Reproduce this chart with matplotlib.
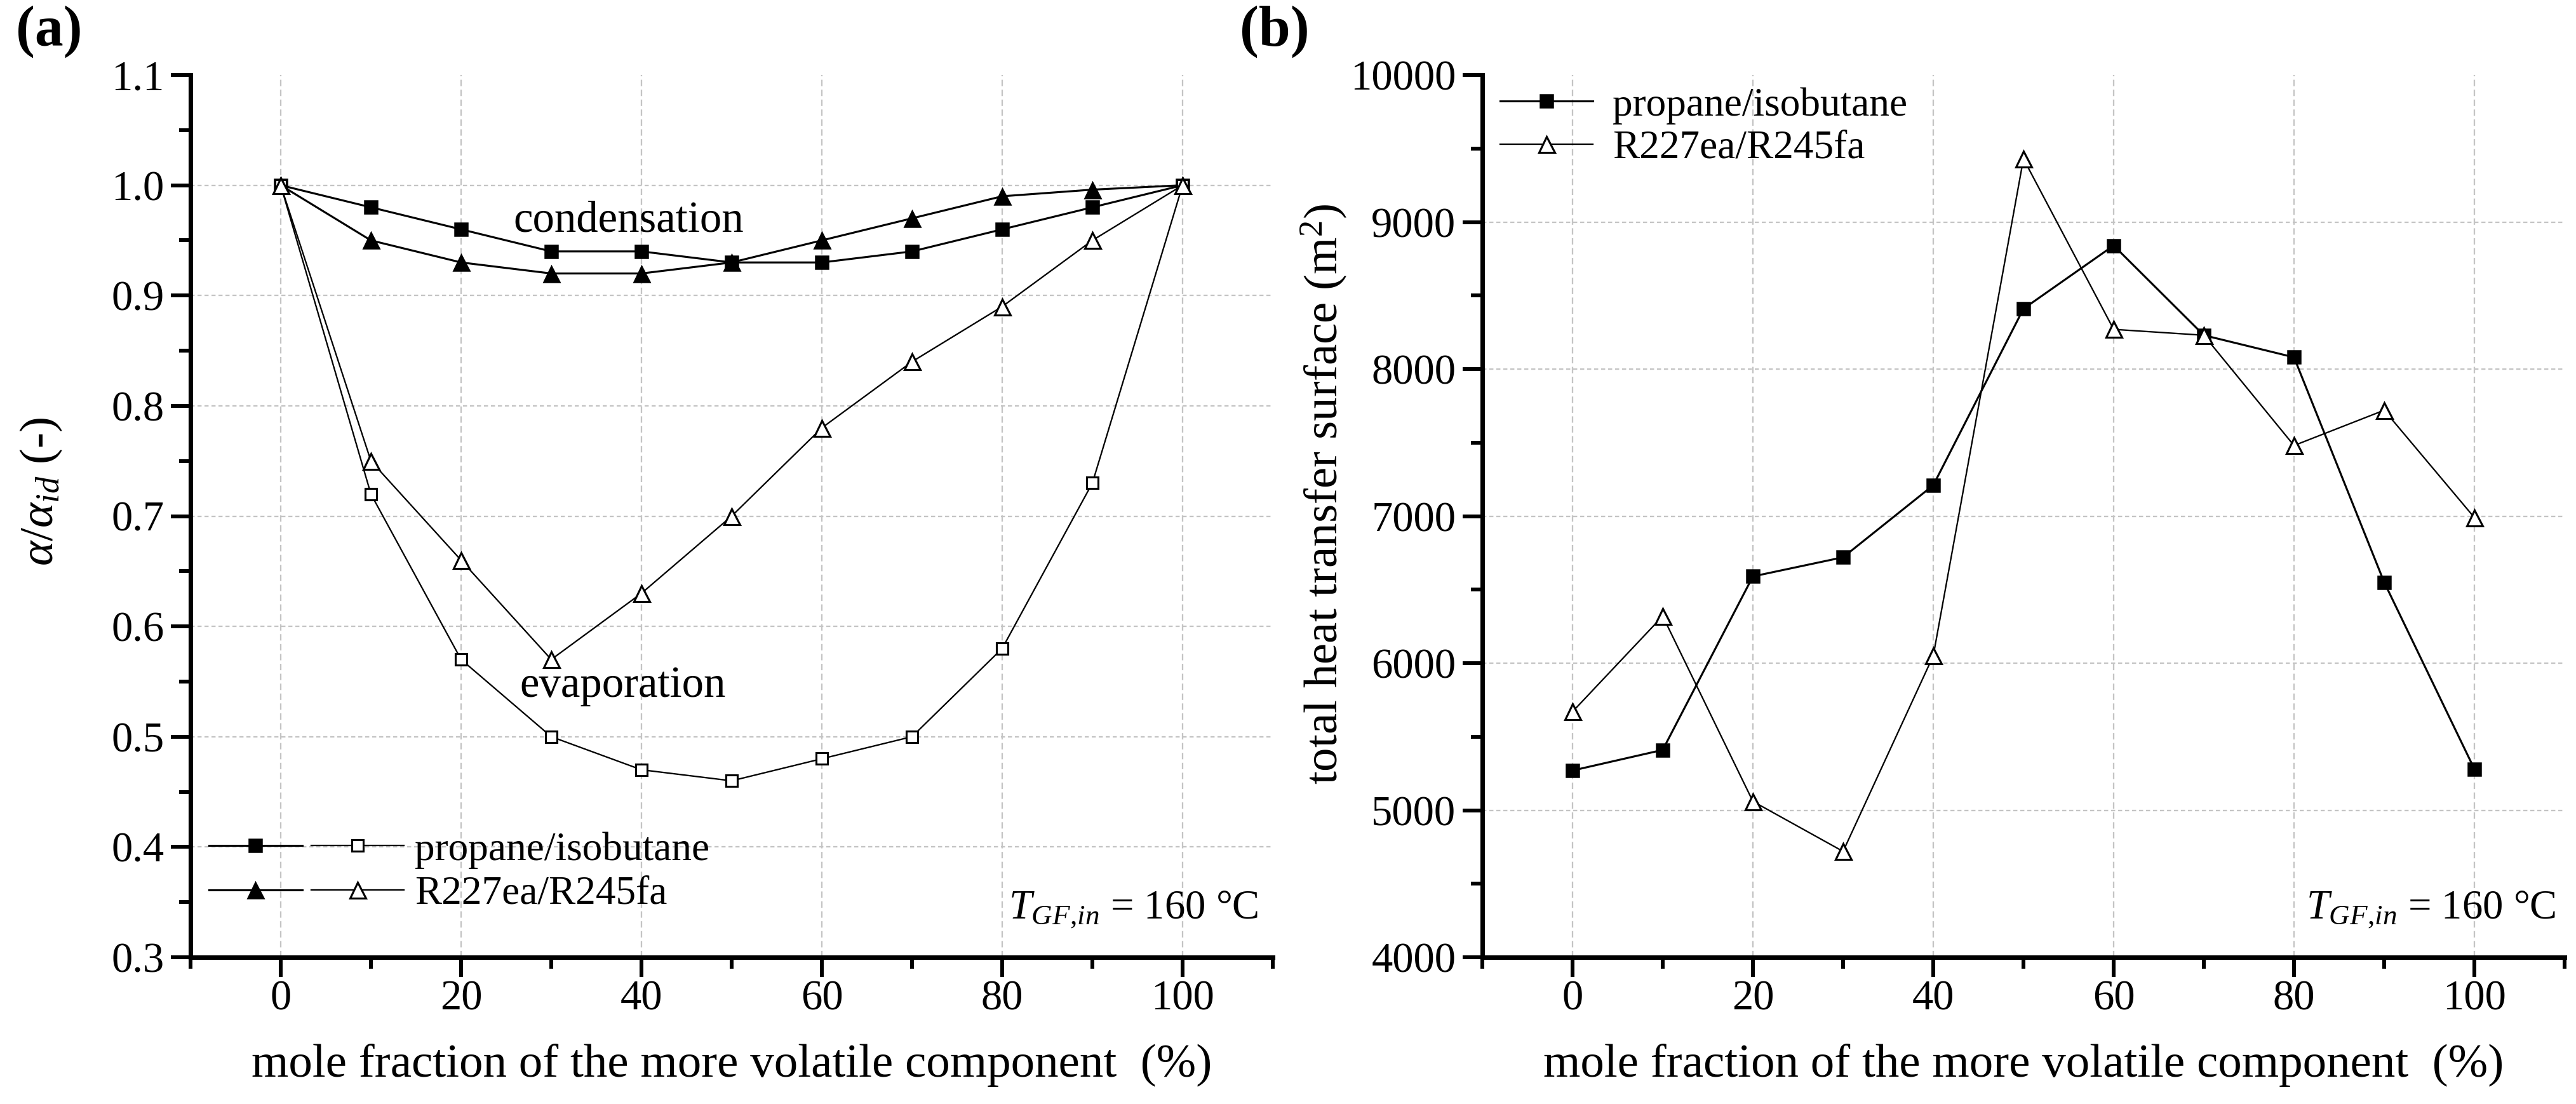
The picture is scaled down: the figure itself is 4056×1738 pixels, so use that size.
import matplotlib
matplotlib.use("Agg")
import matplotlib.pyplot as plt
from matplotlib.ticker import FixedLocator, MultipleLocator
from matplotlib.legend_handler import HandlerTuple

plt.rcParams['font.family'] = ['Liberation Serif', 'DejaVu Serif']
plt.rcParams['mathtext.fontset'] = 'custom'
plt.rcParams['mathtext.rm'] = 'Liberation Serif'
plt.rcParams['mathtext.it'] = 'Liberation Serif:italic'
plt.rcParams['mathtext.bf'] = 'Liberation Serif:bold'

# ---------------- data ----------------
x = [0, 10, 20, 30, 40, 50, 60, 70, 80, 90, 100]

# (a) ratio alpha/alpha_id
cond_propane = [1.00, 0.98, 0.96, 0.94, 0.94, 0.93, 0.93, 0.94, 0.96, 0.98, 1.00]
cond_r227 = [1.00, 0.95, 0.93, 0.92, 0.92, 0.93, 0.95, 0.97, 0.99, 0.996, 1.00]
evap_propane = [1.00, 0.72, 0.57, 0.50, 0.47, 0.46, 0.48, 0.50, 0.58, 0.73, 1.00]
evap_r227 = [1.00, 0.75, 0.66, 0.57, 0.63, 0.70, 0.78, 0.84, 0.89, 0.95, 1.00]

# (b) total heat transfer surface (m2)
area_propane = [5270, 5410, 6590, 6720, 7210, 8410, 8840, 8230, 8080, 6550, 5280]
area_r227 = [5670, 6320, 5060, 4720, 6050, 9430, 8270, 8230, 7480, 7720, 6990]

series_names = ['propane/isobutane', 'R227ea/R245fa']
xticks = [0, 20, 40, 60, 80, 100]
yticks_a = [0.3, 0.4, 0.5, 0.6, 0.7, 0.8, 0.9, 1.0, 1.1]
yticks_b = [4000, 5000, 6000, 7000, 8000, 9000, 10000]
xlim = (-10, 110)

xlabel = 'mole fraction of the more volatile component  (%)'
ylabel_a = r'$\alpha/\alpha_{id}$ (-)'
ylabel_b = r'total heat transfer surface (m$^{2}$)'
temp_label = r'$T_{GF{,}in}$ = 160 °C'

# ---------------- figure ----------------
W, H = 4056, 1738
fig = plt.figure(figsize=(W / 300, H / 300), dpi=300)
axw = 1704 / W
axh = 1389 / H
axb = 1 - 1507 / H
ax1 = fig.add_axes([300 / W, axb, axw, axh])
ax2 = fig.add_axes([2334 / W, axb, axw, axh])

TICK_FS = 16
LAB_FS = 18
GRID_C = '#c4c4c4'


def style_axes(ax, yticks, yminor):
    for s in ('top', 'right'):
        ax.spines[s].set_visible(False)
    for s in ('left', 'bottom'):
        ax.spines[s].set_linewidth(1.7)
    ax.set_xlim(*xlim)
    ax.set_ylim(yticks[0], yticks[-1])
    ax.xaxis.set_major_locator(FixedLocator(xticks))
    ax.xaxis.set_minor_locator(MultipleLocator(10))
    ax.yaxis.set_major_locator(FixedLocator(yticks))
    ax.yaxis.set_minor_locator(MultipleLocator(yminor))
    ax.tick_params(axis='both', which='major', direction='out', length=7.4,
                   width=1.45, labelsize=TICK_FS)
    ax.tick_params(axis='both', which='minor', direction='out', length=4.4,
                   width=1.45)
    ax.tick_params(axis='x', which='major', pad=1.2)
    ax.tick_params(axis='y', which='major', pad=2.6)
    ax.grid(True, axis='x', which='major', color=GRID_C, linewidth=0.55,
            linestyle=(0, (4.4, 2.4)))
    ax.grid(True, axis='y', which='major', color=GRID_C, linewidth=0.55,
            linestyle=(0, (2.8, 2.0)))
    ax.set_axisbelow(True)
    ticks = ax.yaxis.get_major_ticks()
    ticks[-1].gridline.set_visible(False)
    ticks[0].gridline.set_visible(False)
    ax.set_xlabel(xlabel, fontsize=LAB_FS, va='top')
    ax.xaxis.set_label_coords(0.5, -0.098)


style_axes(ax1, yticks_a, 0.05)
style_axes(ax2, yticks_b, 500)

# ---------------- panel (a) ----------------
LW_F = 0.75
LW_O = 0.55
l1, = ax1.plot(x, cond_propane, color='black', lw=LW_F, marker='s', ms=5,
               mfc='black', mec='black', mew=0.6, zorder=3)
l2, = ax1.plot(x, cond_r227, color='black', lw=LW_F, marker='^', ms=6,
               mfc='black', mec='black', mew=0.6, zorder=3)
l3, = ax1.plot(x, evap_propane, color='black', lw=LW_O, marker='s', ms=4.3,
               mfc='white', mec='black', mew=0.75, zorder=4)
l4, = ax1.plot(x, evap_r227, color='black', lw=LW_O, marker='^', ms=6,
               mfc='white', mec='black', mew=0.75, zorder=5)

ax1.set_ylabel(ylabel_a, fontsize=LAB_FS)
ax1.yaxis.set_label_coords(-0.117, 0.528)

ax1.text(25.8, 0.958, 'condensation', fontsize=16.5, ha='left', va='baseline')
ax1.text(26.5, 0.536, 'evaporation', fontsize=16.5, ha='left', va='baseline')
ax1.text(0.756, 0.044, temp_label, fontsize=15.5, ha='left', va='baseline',
         transform=ax1.transAxes)

leg1 = ax1.legend([(l1, l3), (l2, l4)], series_names,
                  handler_map={tuple: HandlerTuple(ndivide=None, pad=0.22)},
                  loc='center left', bbox_to_anchor=(0.017, 0.0965),
                  frameon=False, fontsize=15.2, handlelength=4.85,
                  handletextpad=0.27, labelspacing=0.17, borderpad=0,
                  borderaxespad=0)

# ---------------- panel (b) ----------------
m1, = ax2.plot(x, area_propane, color='black', lw=LW_F, marker='s', ms=5,
               mfc='black', mec='black', mew=0.6, zorder=3)
m2, = ax2.plot(x, area_r227, color='black', lw=LW_O, marker='^', ms=6,
               mfc='white', mec='black', mew=0.75, zorder=4)

ax2.set_ylabel(ylabel_b, fontsize=LAB_FS)
ax2.yaxis.set_label_coords(-0.123, 0.525)
ax2.text(0.761, 0.044, temp_label, fontsize=15.5, ha='left', va='baseline',
         transform=ax2.transAxes)

leg2 = ax2.legend([m1, m2], series_names, loc='center left',
                  bbox_to_anchor=(0.0164, 0.941), frameon=False, fontsize=15.2,
                  handlelength=2.3, handletextpad=0.5, labelspacing=0.14,
                  borderpad=0, borderaxespad=0)

# ---------------- panel letters ----------------
fig.text(25 / W, 1 - 8 / H, '(a)', fontsize=21.5, fontweight='bold',
         ha='left', va='top')
fig.text(1952 / W, 1 - 8 / H, '(b)', fontsize=21.5, fontweight='bold',
         ha='left', va='top')

fig.savefig('out.png', dpi=300, facecolor='white')
